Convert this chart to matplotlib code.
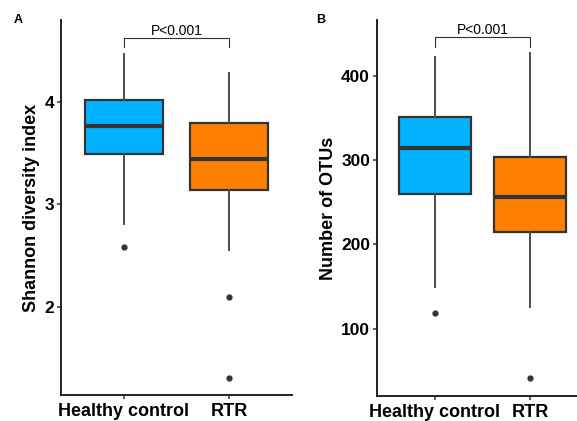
import matplotlib
matplotlib.use("Agg")
import matplotlib.pyplot as plt

plt.rcParams["font.family"] = ["Liberation Sans", "DejaVu Sans"]

groups = ["Healthy control", "RTR"]
colors = ["#00B2FF", "#FF8000"]

# Shannon diversity: whislo, q1, med, q3, whishi, outliers
shannon = [
    dict(whislo=2.81, q1=3.49, med=3.765, q3=4.02, whishi=4.47, fliers=[2.58]),
    dict(whislo=2.56, q1=3.14, med=3.44, q3=3.795, whishi=4.28, fliers=[2.10, 1.31]),
]
otus = [
    dict(whislo=149, q1=260, med=314, q3=351, whishi=422, fliers=[118]),
    dict(whislo=125, q1=215, med=256, q3=304, whishi=427, fliers=[41]),
]

W, H = 577, 421
fig = plt.figure(figsize=(W/100, H/100), dpi=100)
axA = fig.add_axes([61/W, 26/H, 231/W, 375/H])
axB = fig.add_axes([377/W, 25/H, 211/W, 376/H])


def draw(ax, stats, ylim, yticks, ylabel, bracket, tip):
    st = [dict(s, label=g) for s, g in zip(stats, groups)]
    bp = ax.bxp(st, positions=[1, 2], widths=0.75, patch_artist=True,
                showcaps=False,
                boxprops=dict(edgecolor="#333333", linewidth=1.6),
                medianprops=dict(color="#333333", linewidth=3.0),
                whiskerprops=dict(color="#4d4d4d", linewidth=1.4),
                flierprops=dict(marker="o", markersize=3.5,
                                markerfacecolor="#333333",
                                markeredgecolor="#333333"))
    for patch, c in zip(bp["boxes"], colors):
        patch.set_facecolor(c)
    ax.set_xlim(0.4, 2.6)
    ax.set_ylim(*ylim)
    ax.set_yticks(yticks)
    ax.set_xticks([1, 2])
    ax.set_xticklabels(groups, fontsize=13, fontweight="bold")
    for t in ax.get_yticklabels():
        t.set_fontsize(12.5)
        t.set_fontweight("bold")
    ax.set_ylabel(ylabel, fontsize=13, fontweight="bold", labelpad=3)
    for s in ("top", "right"):
        ax.spines[s].set_visible(False)
    for s in ("left", "bottom"):
        ax.spines[s].set_linewidth(1.4)
        ax.spines[s].set_color("#222222")
    ax.tick_params(length=3, width=1.1, color="#333333", pad=2)
    ax.tick_params(axis="x", pad=2.5)
    ax.plot([1, 1, 2, 2], [tip, bracket, bracket, tip], color="#333333", lw=0.8)
    ax.text(1.5, bracket, "P<0.001", ha="center", va="bottom", fontsize=10)


draw(axA, shannon, (1.14, 4.80), [2, 3, 4], "Shannon diversity index", 4.628, 4.537)
draw(axB, otus, (20, 466), [100, 200, 300, 400], "Number of OTUs", 446, 434)

fig.text(14/W, 1 - 20/H, "A", fontsize=9, fontweight="bold", ha="left", va="center")
fig.text(316/W, 1 - 20/H, "B", fontsize=9, fontweight="bold", ha="left", va="center")

fig.savefig("out.png", dpi=100)
